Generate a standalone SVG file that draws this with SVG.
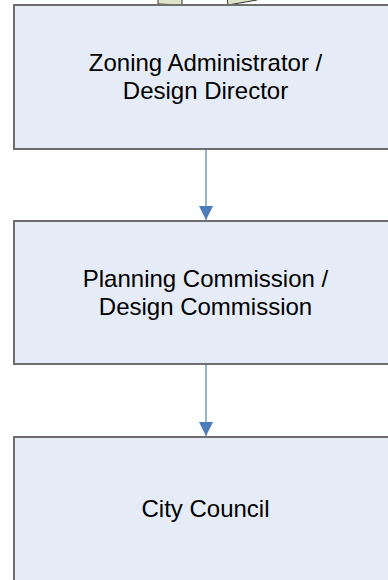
<svg xmlns="http://www.w3.org/2000/svg" width="388" height="580" viewBox="0 0 388 580">
<defs>
<style>
.box{fill:#e6ecf7;stroke:#6e6e6e;stroke-width:2}
.doc{fill:#dfe4c9;stroke:#333;stroke-width:1}
.lbl{font-family:"Liberation Sans",Arial,sans-serif;font-size:24px;fill:#000;text-anchor:middle}
.conn{stroke:#95b3d7;stroke-width:2;fill:none}
</style>
<marker id="ah" markerWidth="14" markerHeight="14" refX="14" refY="7" orient="auto" markerUnits="userSpaceOnUse" viewBox="0 0 14 14">
<path d="M0,0 L14,7 L0,14 Z" fill="#4a7ebb"/>
</marker>
</defs>
<g id="docs">
<polygon class="doc" points="158,-10 182,-10 182,5 158,4"/>
<polygon class="doc" points="226,-10 252,-14 257,0 228,5"/>
</g>
<g id="node-zoning">
<rect class="box" x="14" y="5" width="380" height="144"/>
<text class="lbl" x="205.5" y="71">Zoning Administrator /</text>
<text class="lbl" x="205.5" y="99">Design Director</text>
</g>
<g id="node-planning">
<rect class="box" x="14" y="221" width="380" height="143"/>
<text class="lbl" x="205.5" y="287">Planning Commission /</text>
<text class="lbl" x="205.5" y="315">Design Commission</text>
</g>
<g id="node-council">
<rect class="box" x="14" y="437" width="380" height="150"/>
<text class="lbl" x="205.5" y="517">City Council</text>
</g>
<g id="connectors">
<path class="conn" d="M206,150 L206,220" marker-end="url(#ah)"/>
<path class="conn" d="M206,365 L206,436" marker-end="url(#ah)"/>
</g>
</svg>
